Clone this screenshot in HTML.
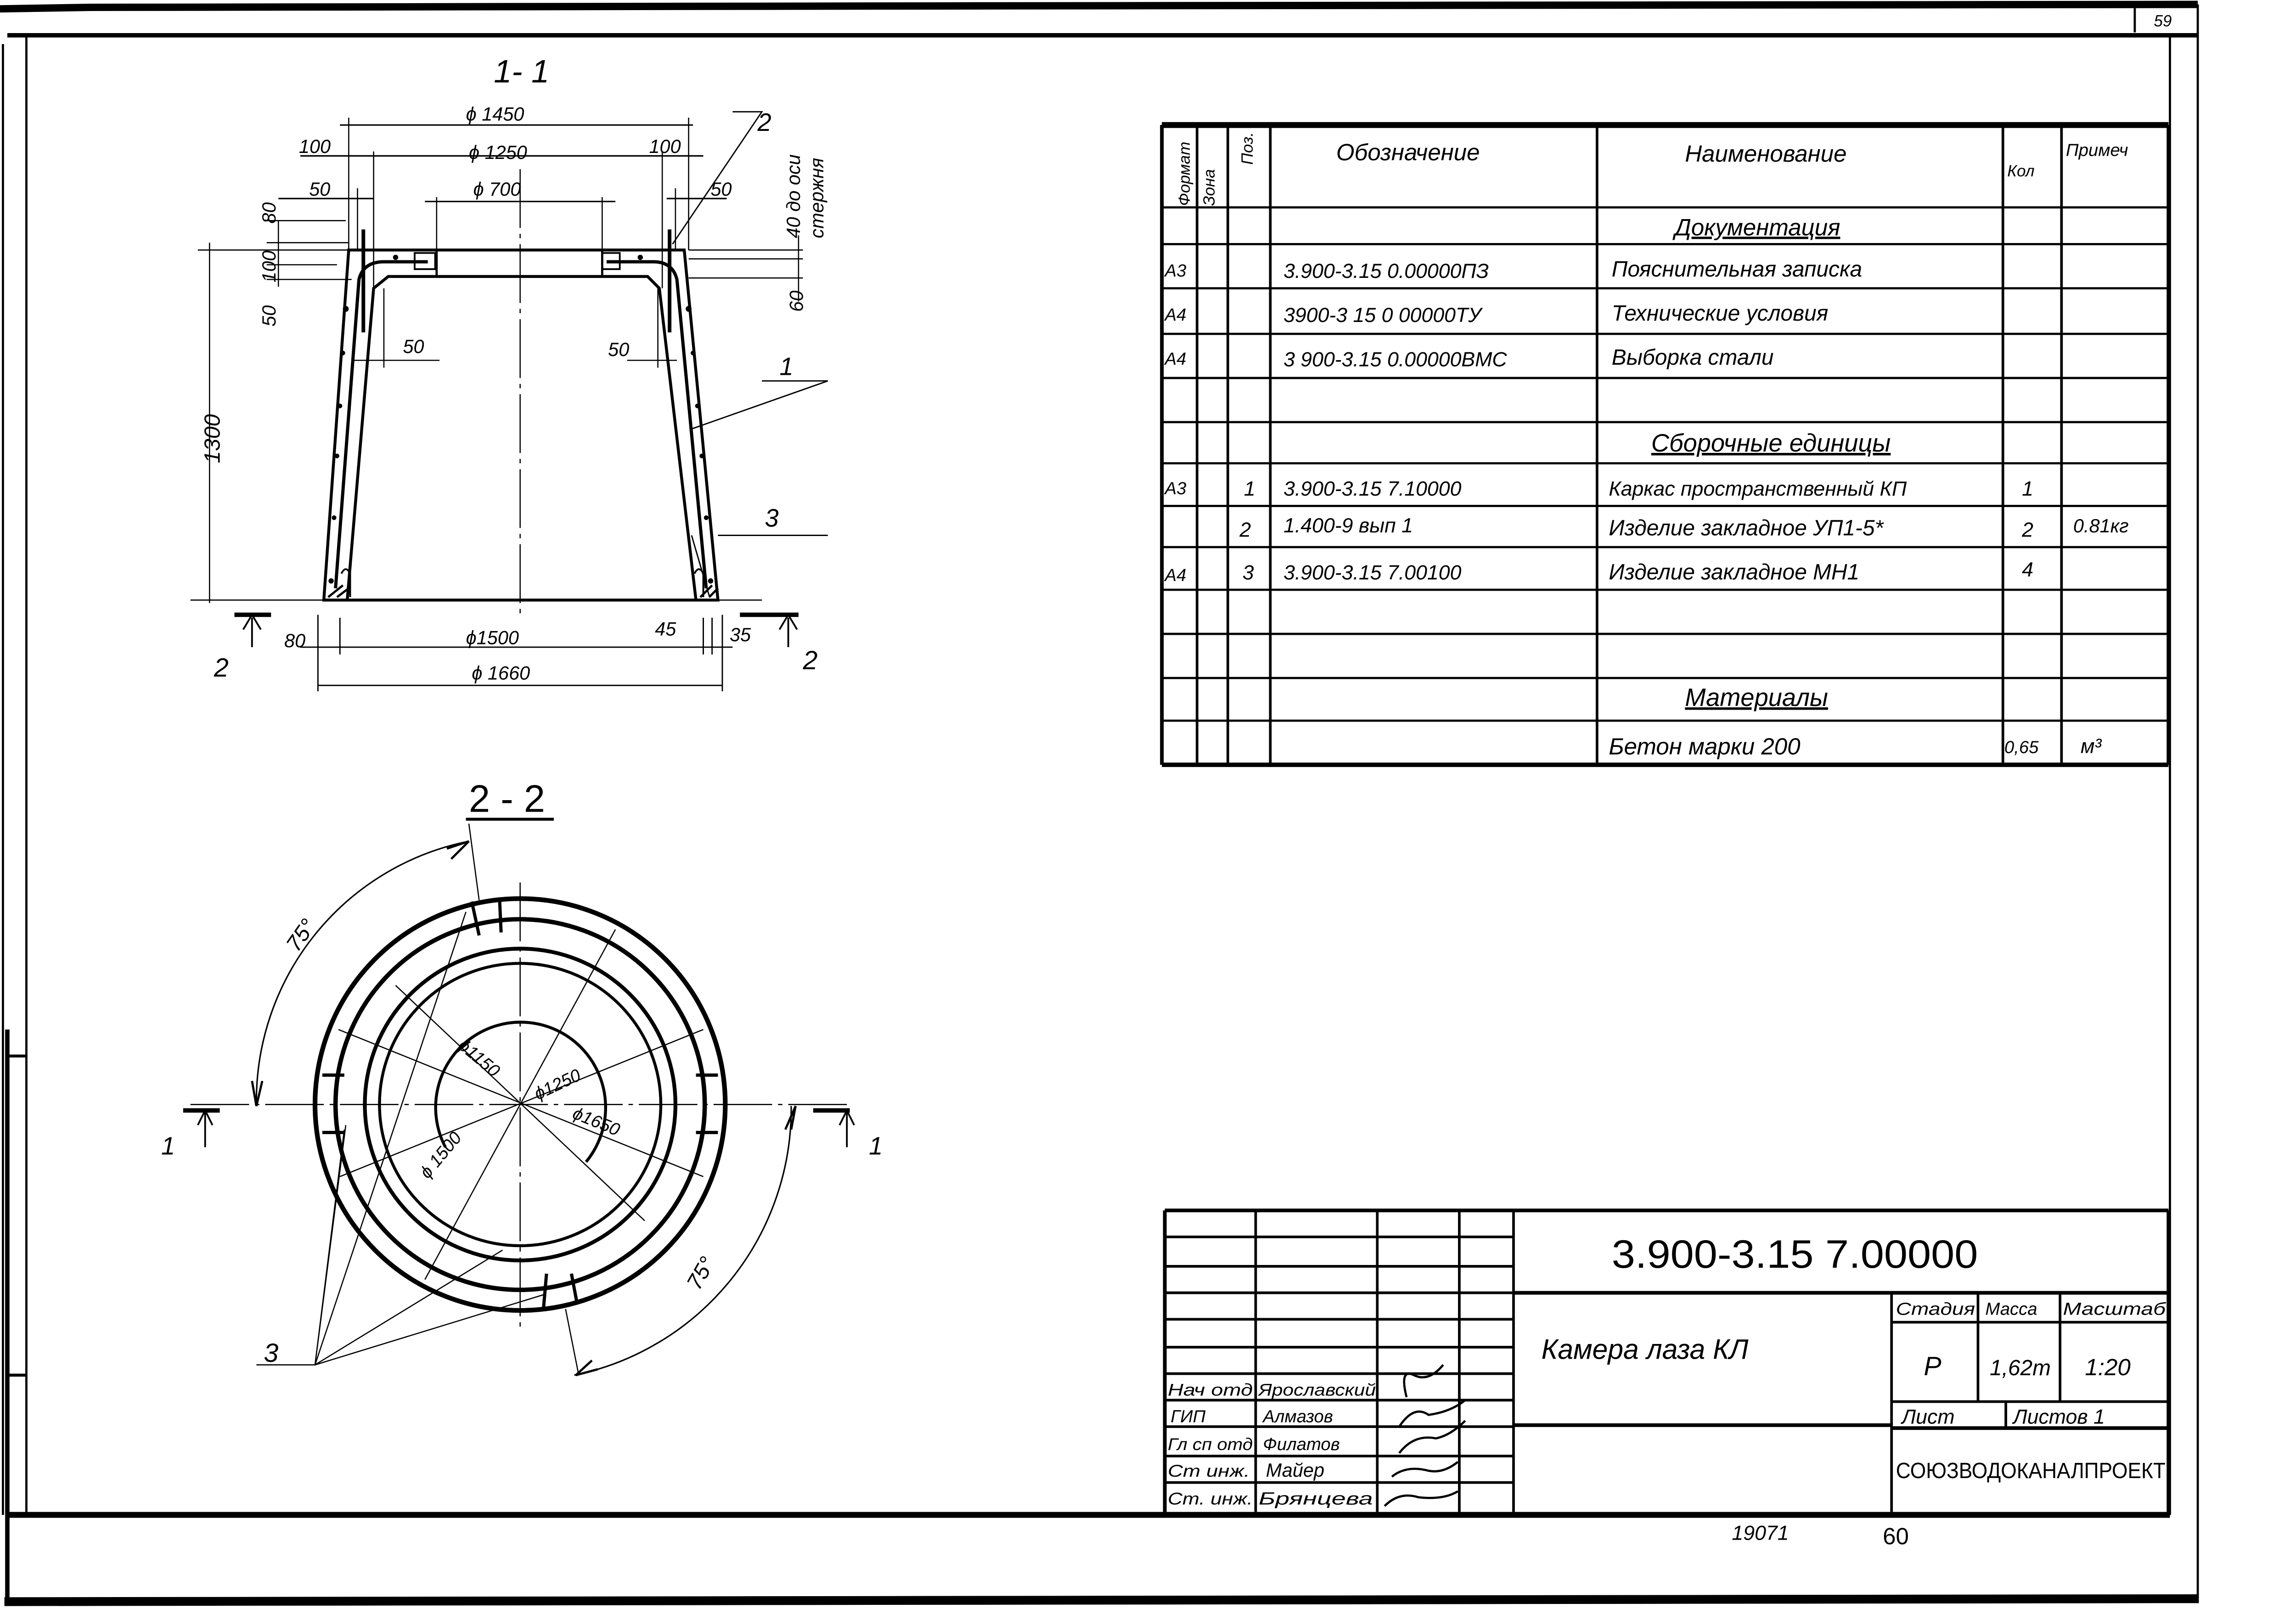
<!DOCTYPE html>
<html><head><meta charset="utf-8"><style>
html,body{margin:0;padding:0;background:#fff}
svg{display:block}
text{font-family:"Liberation Sans","DejaVu Sans",sans-serif;font-style:italic;fill:#000}
</style></head><body>
<svg width="5019" height="3503" viewBox="0 0 1573 1094" preserveAspectRatio="none" xmlns="http://www.w3.org/2000/svg">
<rect width="1573" height="1094" fill="#fff"/>
<g stroke="#000" fill="none">
<path d="M0 6 L62 5 L665 4 L1500 3" stroke-width="5"/>
<path d="M1457 5 V22 M1500 3 V1090" stroke-width="1.5"/>
<path d="M5 24 L1500 24" stroke-width="3"/>
<path d="M18 24 V1030 M1481 24 V1030 M2 30 V1030" stroke-width="1.5"/>
<path d="M5 1030 L1481 1030" stroke-width="4"/>
<path d="M3 1089 L1500 1087" stroke-width="6"/>
<path d="M5 700 V1090" stroke-width="3"/>
<path d="M5 718 H18 M5 935 H18" stroke-width="2"/>
<path d="M793 85 H1480" stroke-width="4"/>
<path d="M793 520 H1480" stroke-width="3"/>
<path d="M793 85 V520 M1480 85 V520" stroke-width="2.5"/>
<path d="M817 85 V520 M838 85 V520 M867 85 V520 M1090 85 V520 M1367 85 V520 M1407 85 V520" stroke-width="1.8"/>
<path d="M793 141 H1480 M793 166 H1480 M793 196 H1480 M793 227 H1480 M793 257 H1480 M793 287 H1480 M793 315 H1480 M793 344 H1480 M793 372 H1480 M793 401 H1480 M793 431 H1480 M793 461 H1480 M793 490 H1480" stroke-width="1.5"/>
<path d="M795 823 H1480 M795 823 V1028 M1480 823 V1028" stroke-width="2.5"/>
<path d="M857 823 V1028 M940 823 V1028 M996 823 V1028 M1033 823 V1028" stroke-width="1.8"/>
<path d="M795 841 H1033 M795 861 H1033 M795 879 H1033 M795 897 H1033 M795 916 H1033 M795 934 H1033 M795 952 H1033 M795 970 H1033 M795 990 H1033 M795 1008 H1033" stroke-width="1.8"/>
<path d="M1033 879 H1480 M1033 969 H1291 M1291 971 H1480" stroke-width="2.5"/>
<path d="M1291 879 V1028" stroke-width="1.8"/>
<path d="M1291 899 H1480 M1291 953 H1480 M1350 879 V953 M1406 879 V953 M1369 953 V971" stroke-width="1.8"/>

<path d="M221 408 L238 170 L467 170 L490 408 Z" stroke-width="2"/>
<path d="M237 408 L255 196 L265 188 L442 188 L450 196 L475 408" stroke-width="2"/>
<path d="M298 170 V188 M411 170 V188" stroke-width="1.5"/>
<path d="M229 400 L245 190 Q248 178 262 178 L292 178" stroke-width="2.2"/>
<path d="M482 400 L462 190 Q459 178 446 178 L414 178" stroke-width="2.2"/>
<path d="M248 156 V226 M457 156 V226" stroke-width="2.5"/>
<path d="M283 172 H297 V183 H283 Z M411 172 H423 V183 H411 Z" stroke-width="1.2"/>
<path d="M224 406 L234 398 M230 406 L238 400 M478 406 L486 398 M484 406 L490 400" stroke-width="1.5"/>
<path d="M233 390 Q236 384 239 390 V406 M474 390 Q477 384 480 390 V406" stroke-width="1.2"/>
<path d="M355 115 V420" stroke-width="0.8" stroke-dasharray="40 4 3 4"/>
<path d="M232 85 H473 M205 106 H480 M190 135 H255 M290 137 H420 M455 135 H496" stroke-width="1"/>
<path d="M238 80 V170 M470 80 V170 M255 103 V196 M452 103 V196 M244 128 V170 M461 128 V170 M298 134 V170 M411 134 V170" stroke-width="0.8"/>
<path d="M143 165 V410 M190 150 V195" stroke-width="0.8"/>
<path d="M135 170 H238 M182 150 H236 M182 165 H238 M182 180 H230 M182 190 H240 M130 408 H221 M490 408 H520" stroke-width="0.8"/>
<path d="M470 170 H548 M470 176 H548 M470 189 H548 M545 160 V205" stroke-width="0.8"/>
<path d="M262 196 V250 M262 245 H300 M240 245 H262 M449 196 V250 M428 245 H462" stroke-width="0.8"/>
<path d="M500 76 H520 L459 166 M520 259 H565 L471 292 M490 364 H565 M472 364 L484 405" stroke-width="0.9"/>
<path d="M217 418 V470 M493 418 V470 M232 420 V445 M480 420 V445 M486 420 V445 M205 440 H500 M217 466 H493" stroke-width="0.9"/>
<path d="M160 418 H185 M505 418 H545" stroke-width="3"/>
<path d="M172 440 V420 M166 428 L172 418 L178 428 M538 440 V420 M532 428 L538 418 L544 428" stroke-width="1.2"/>

<circle cx="355" cy="751" r="140" stroke-width="3.2"/>
<circle cx="355" cy="751" r="126" stroke-width="3"/>
<circle cx="355" cy="751" r="106" stroke-width="2.6"/>
<circle cx="355" cy="751" r="96" stroke-width="2"/>
<path d="M304 780 A58 58 0 1 1 400 790" stroke-width="2"/>
<path d="M130 751 H582" stroke-width="0.8" stroke-dasharray="40 4 3 4"/>
<path d="M355 600 V905" stroke-width="0.8" stroke-dasharray="40 4 3 4"/>
<path d="M322 613 L327 636 M341 612 L342 634 M220 731 H235 M220 770 H235 M475 731 H490 M475 770 H490 M373 866 L371 889 M390 866 L394 887" stroke-width="2.2"/>
<path d="M231 700 L480 800 M480 700 L232 800 M270 670 L440 830 M290 870 L420 632 M320 560 L327 612 M386 890 L395 935" stroke-width="0.8"/>
<path d="M175 750 A180 180 0 0 1 320 572" stroke-width="1"/>
<path d="M540 752 A185 185 0 0 1 392 935" stroke-width="1"/>
<path d="M172 735 L175 752 L179 735 M540 768 L543 752 L536 768 M305 577 L320 572 L308 584 M408 931 L393 935 L404 925" stroke-width="1.5"/>
<path d="M125 755 H150 M555 755 H580" stroke-width="3"/>
<path d="M140 780 V756 M135 765 L140 755 L145 765 M578 780 V756 M573 765 L578 755 L583 765" stroke-width="1.2"/>
<path d="M175 928 H215 L235 768 M215 928 L318 620 M215 928 L343 850 M215 928 L372 880 M215 928 L236 765" stroke-width="0.8"/>
<path d="M318 557 H378" stroke-width="2"/>
<path d="M960 950 Q955 930 965 935 Q975 940 985 928 M955 970 Q965 955 975 962 Q990 960 1000 952 M955 988 Q965 975 980 978 Q990 976 1000 966 M950 1004 Q960 996 975 1000 Q985 1002 995 994 M945 1024 Q955 1014 968 1018 Q985 1020 995 1014" stroke-width="1.5"/>
</g>
<g fill="#000" stroke="none">
<circle cx="236" cy="210" r="2"/><circle cx="234" cy="240" r="1.6"/><circle cx="232" cy="276" r="1.6"/><circle cx="230" cy="310" r="1.6"/><circle cx="228" cy="352" r="1.6"/><circle cx="226" cy="395" r="1.8"/>
<circle cx="470" cy="210" r="2"/><circle cx="473" cy="240" r="1.6"/><circle cx="476" cy="276" r="1.6"/><circle cx="479" cy="310" r="1.6"/><circle cx="482" cy="352" r="1.6"/><circle cx="485" cy="395" r="1.8"/>
<circle cx="270" cy="175" r="1.8"/><circle cx="437" cy="175" r="1.8"/>
</g>

<g font-size="13">
<text x="1470" y="18" font-size="11">59</text>
<text x="337" y="56" font-size="22">1- 1</text>
<text x="318" y="82">ϕ 1450</text>
<text x="204" y="104">100</text>
<text x="320" y="108">ϕ 1250</text>
<text x="443" y="104">100</text>
<text x="211" y="133">50</text>
<text x="323" y="133">ϕ 700</text>
<text x="485" y="133">50</text>
<text x="517" y="89" font-size="17">2</text>
<text x="275" y="240">50</text>
<text x="415" y="242">50</text>
<text x="532" y="255" font-size="17">1</text>
<text x="522" y="358" font-size="17">3</text>
<text x="194" y="440">80</text>
<text x="318" y="438">ϕ1500</text>
<text x="447" y="432">45</text>
<text x="498" y="436">35</text>
<text x="322" y="462">ϕ 1660</text>
<text x="146" y="460" font-size="18">2</text>
<text x="548" y="455" font-size="18">2</text>
<text transform="translate(188,152) rotate(-90)">80</text>
<text transform="translate(188,192) rotate(-90)">100</text>
<text transform="translate(188,222) rotate(-90)">50</text>
<text transform="translate(150,315) rotate(-90)" font-size="15">1300</text>
<text transform="translate(548,212) rotate(-90)">60</text>
<text transform="translate(546,162) rotate(-90)">40 до оси</text>
<text transform="translate(562,162) rotate(-90)">стержня</text>
<text x="320" y="552" font-size="26" style="font-style:normal">2 - 2</text>
<text transform="translate(203,648) rotate(-55)" font-size="15">75°</text>
<text transform="translate(477,878) rotate(-60)" font-size="15">75°</text>
<text x="110" y="785" font-size="17">1</text>
<text x="593" y="785" font-size="17">1</text>
<text x="180" y="926" font-size="18">3</text>
<text transform="translate(312,712) rotate(40)" font-size="12">ϕ1150</text>
<text transform="translate(367,748) rotate(-25)" font-size="12">ϕ1250</text>
<text transform="translate(390,760) rotate(22)" font-size="12">ϕ1650</text>
<text transform="translate(292,802) rotate(-50)" font-size="12">ϕ 1500</text>

<text transform="translate(812,140) rotate(-90)" font-size="11">Формат</text>
<text transform="translate(829,140) rotate(-90)" font-size="11">Зона</text>
<text transform="translate(855,112) rotate(-90)" font-size="11">Поз.</text>
<text x="912" y="109" font-size="16">Обозначение</text>
<text x="1150" y="110" font-size="16">Наименование</text>
<text x="1370" y="120" font-size="11">Кол</text>
<text x="1410" y="106" font-size="12">Примеч</text>
<text x="1143" y="160" font-size="16" text-decoration="underline">Документация</text>
<text x="795" y="188" font-size="12">А3</text>
<text x="795" y="218" font-size="12">А4</text>
<text x="795" y="248" font-size="12">А4</text>
<text x="795" y="336" font-size="12">А3</text>
<text x="795" y="395" font-size="12">А4</text>
<text x="876" y="189" font-size="14">3.900-3.15   0.00000ПЗ</text>
<text x="876" y="219" font-size="14">3900-3 15   0 00000ТУ</text>
<text x="876" y="249" font-size="14">3 900-3.15   0.00000ВМС</text>
<text x="1100" y="188" font-size="15">Пояснительная записка</text>
<text x="1100" y="218" font-size="15">Технические условия</text>
<text x="1100" y="248" font-size="15">Выборка стали</text>
<text x="1127" y="307" font-size="17" text-decoration="underline">Сборочные единицы</text>
<text x="849" y="337" font-size="14">1</text>
<text x="876" y="337" font-size="14">3.900-3.15   7.10000</text>
<text x="1098" y="337" font-size="14">Каркас пространственный КП</text>
<text x="1380" y="337" font-size="14">1</text>
<text x="846" y="365" font-size="14">2</text>
<text x="876" y="362" font-size="14">1.400-9  вып 1</text>
<text x="1098" y="364" font-size="15">Изделие закладное УП1-5*</text>
<text x="1380" y="365" font-size="14">2</text>
<text x="1415" y="362" font-size="13">0.81кг</text>
<text x="848" y="394" font-size="14">3</text>
<text x="876" y="394" font-size="14">3.900-3.15  7.00100</text>
<text x="1098" y="394" font-size="15">Изделие закладное МН1</text>
<text x="1380" y="392" font-size="14">4</text>
<text x="1150" y="480" font-size="17" text-decoration="underline">Материалы</text>
<text x="1098" y="513" font-size="16">Бетон марки 200</text>
<text x="1368" y="512" font-size="12">0,65</text>
<text x="1420" y="512" font-size="14">м³</text>

<text x="1100" y="862" font-size="27" style="font-style:normal" textLength="250" lengthAdjust="spacingAndGlyphs">3.900-3.15 7.00000</text>
<text x="1052" y="924" font-size="19">Камера лаза КЛ</text>
<text x="1294" y="894" font-size="12" textLength="54" lengthAdjust="spacingAndGlyphs">Стадия</text>
<text x="1355" y="894" font-size="12">Масса</text>
<text x="1408" y="894" font-size="12" textLength="70" lengthAdjust="spacingAndGlyphs">Масштаб</text>
<text x="1313" y="935" font-size="18">Р</text>
<text x="1358" y="935" font-size="15">1,62т</text>
<text x="1423" y="935" font-size="16">1:20</text>
<text x="1298" y="968" font-size="14">Лист</text>
<text x="1374" y="968" font-size="14">Листов 1</text>
<text x="1294" y="1005" font-size="15" style="font-style:normal" textLength="184" lengthAdjust="spacingAndGlyphs">СОЮЗВОДОКАНАЛПРОЕКТ</text>
<text x="797" y="949" font-size="11.5" textLength="58" lengthAdjust="spacingAndGlyphs">Нач отд</text>
<text x="859" y="949" font-size="11.5" textLength="80" lengthAdjust="spacingAndGlyphs">Ярославский</text>
<text x="799" y="967" font-size="12">ГИП</text>
<text x="862" y="967" font-size="12">Алмазов</text>
<text x="797" y="986" font-size="11.5" textLength="58" lengthAdjust="spacingAndGlyphs">Гл сп отд</text>
<text x="862" y="986" font-size="12">Филатов</text>
<text x="797" y="1004" font-size="11.5" textLength="56" lengthAdjust="spacingAndGlyphs">Ст инж.</text>
<text x="864" y="1004" font-size="13">Майер</text>
<text x="797" y="1023" font-size="11.5" textLength="58" lengthAdjust="spacingAndGlyphs">Ст. инж.</text>
<text x="859" y="1023" font-size="12" textLength="78" lengthAdjust="spacingAndGlyphs">Брянцева</text>
<text x="1182" y="1047" font-size="14">19071</text>
<text x="1285" y="1050" font-size="16" style="font-style:normal">60</text>
</g>
</svg>
</body></html>
